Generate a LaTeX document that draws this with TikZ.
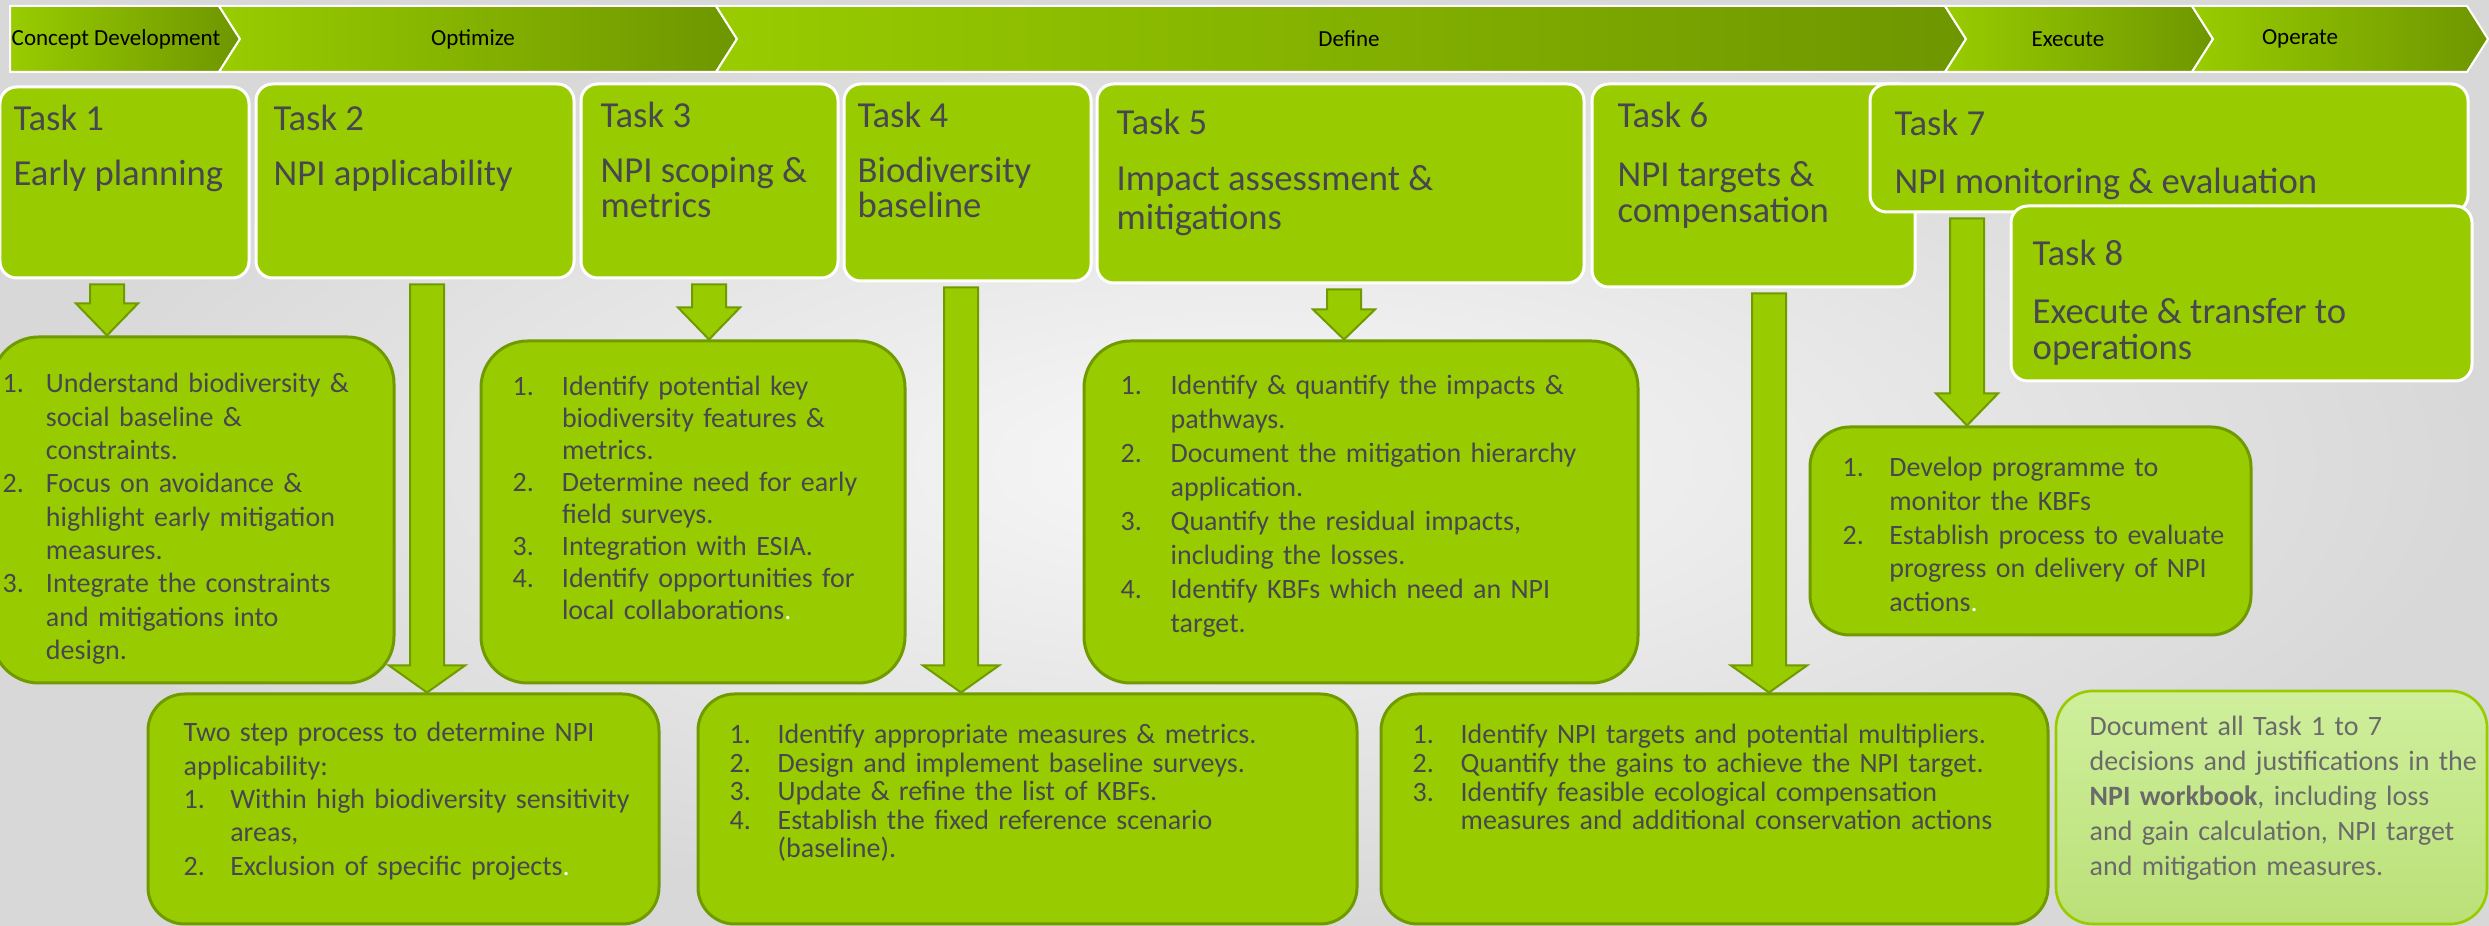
\documentclass[tikz,border=0pt]{standalone}
\usepackage{fontspec}
\setmainfont{Carlito}
\usetikzlibrary{fit,calc}
\definecolor{lg}{HTML}{99CC00}
\definecolor{dg}{HTML}{6E9600}
\definecolor{bd}{HTML}{6F9A00}
\definecolor{tx}{HTML}{47474F}
\definecolor{hla}{HTML}{CFEF9C}
\definecolor{hlb}{HTML}{BBE078}
\definecolor{hx}{HTML}{6A6A6A}
\definecolor{bga}{HTML}{F8F8F8}
\definecolor{bgb}{HTML}{D8D8D8}
\newlength\lind
\newcommand\li[2]{\hangindent=\lind\hangafter=1\noindent\makebox[\lind][l]{#1}#2\par}
\newcommand\barrow[5]{%
  \draw[blockarrow] let \p1=#1, \p2=#2 in
   (\x1-#3,\y1) -- (\x1+#3,\y1) -- (\x1+#3,\y2+#5) -- (\x1+#4,\y2+#5) -- (\x1,\y2)
   -- (\x1-#4,\y2+#5) -- (\x1-#3,\y2+#5) -- cycle;}
\tikzset{
  taskbox/.style={fill=lg, draw=white, line width=0.9pt, rounded corners=5pt, inner sep=0pt},
  listbox/.style={fill=lg, draw=bd, line width=0.9pt, rounded corners=14pt, inner sep=0pt},
  lowbox/.style={listbox, rounded corners=11pt},
  notebox/.style={top color=hla, bottom color=hlb, draw=lg, line width=0.8pt, rounded corners=11pt, inner sep=0pt},
  ttl/.style={text=tx, font=\fontsize{11}{12}\selectfont, inner sep=0pt, anchor=base west},
  body/.style={text=tx, inner sep=0pt, anchor=base west, align=left, text width=#1},
  chev/.style={draw=white, line width=0.6pt, left color=lg, right color=dg},
  htext/.style={font=\fontsize{6.9}{8}\selectfont, text=black, inner sep=0pt},
  blockarrow/.style={fill=lg, draw=bd, line width=0.6pt},
}
\begin{document}
\begin{tikzpicture}[x=0.3pt,y=-0.3pt]
\useasboundingbox (0,0) rectangle (2489,926);
\shade[inner color=bga, outer color=bgb] (0,0) rectangle (2489,926);

% header chevrons
\path[chev] (10,6) -- (219,6) -- (240,39) -- (219,72) -- (10,72) -- cycle;
\node[htext] (hcd) at (116,39) {Concept Development};
\path[chev] (219,6) -- (716,6) -- (737,39) -- (716,72) -- (219,72) -- (240,39) -- cycle;
\node[htext] (hop) at (473,39) {Optimize};
\path[chev] (716,6) -- (1945,6) -- (1966,39) -- (1945,72) -- (716,72) -- (737,39) -- cycle;
\node[htext] (hdf) at (1349,39) {Define};
\path[chev] (1945,6) -- (2192,6) -- (2213,39) -- (2192,72) -- (1945,72) -- (1966,39) -- cycle;
\node[htext] (hex) at (2068,39) {Execute};
\path[chev] (2192,6) -- (2467,6) -- (2488,39) -- (2467,72) -- (2192,72) -- (2213,39) -- cycle;
\node[htext] (hoe) at (2300,39) {Operate};

% task boxes
\node[taskbox, fit={(0,87) (249,278)}] (T1) {};
\node[ttl] (T1n) at (13,131) {Task 1};
\node[ttl] (T1t) at (13,186) {Early planning};

\node[taskbox, fit={(256,84) (574,278)}] (T2) {};
\node[ttl] (T2n) at (273,131) {Task 2};
\node[ttl] (T2t) at (273,186) {NPI applicability};

\node[taskbox, fit={(581,84) (838,278)}] (T3) {};
\node[ttl] (T3n) at (600,128) {Task 3};
\node[ttl] (T3t) at (600,183) {NPI scoping \&};
\node[ttl] (T3u) at (600,218) {metrics};

\node[taskbox, fit={(844,84) (1091,281)}] (T4) {};
\node[ttl] (T4n) at (857,128) {Task 4};
\node[ttl] (T4t) at (857,183) {Biodiversity};
\node[ttl] (T4u) at (857,218) {baseline};

\node[taskbox, fit={(1097,84) (1584,283)}] (T5) {};
\node[ttl] (T5n) at (1116,135) {Task 5};
\node[ttl] (T5t) at (1116,191) {Impact assessment \&};
\node[ttl] (T5u) at (1116,230) {mitigations};

\node[taskbox, fit={(1592,84) (1915,287)}] (T6) {};
\node[ttl] (T6n) at (1617,128) {Task 6};
\node[ttl] (T6t) at (1617,187) {NPI targets \&};
\node[ttl] (T6u) at (1617,223) {compensation};

\node[taskbox, fit={(1870,84) (2468,212)}] (T7) {};
\node[ttl] (T7n) at (1894,136) {Task 7};
\node[ttl] (T7t) at (1894,194) {NPI monitoring \& evaluation};

\node[taskbox, fit={(2011,206) (2472,381)}] (T8) {};
\node[ttl] (T8n) at (2032,266) {Task 8};
\node[ttl] (T8t) at (2032,324) {Execute \& transfer to};
\node[ttl] (T8u) at (2032,360) {operations};

% list boxes
\node[listbox, fit={(-8,337) (394,683)}] (A) {};
\node[body=125pt, font=\fontsize{8.4}{10}\selectfont] (At) at (2,393) {\setlength\lind{13pt}%
\li{1.}{Understand biodiversity \&\newline social baseline \&\newline constraints.}%
\li{2.}{Focus on avoidance \&\newline highlight early mitigation\newline measures.}%
\li{3.}{Integrate the constraints\newline and mitigations into\newline design.}};

\node[lowbox, fit={(148,694) (659,924)}] (B) {};
\node[body=150pt, font=\fontsize{8.4}{10}\selectfont] (Bt) at (183,742) {\setlength\lind{14pt}%
\noindent Two step process to determine NPI\newline applicability:\par
\li{1.}{Within high biodiversity sensitivity\newline areas,}%
\li{2.}{Exclusion of specific projects\textcolor{white}{.}}};

\node[listbox, fit={(481,341) (905,683)}] (C) {};
\node[body=125pt, font=\fontsize{8.4}{9.6}\selectfont] (Ct) at (512,396) {\setlength\lind{14.8pt}%
\li{1.}{Identify potential key\newline biodiversity features \&\newline metrics.}%
\li{2.}{Determine need for early\newline field surveys.}%
\li{3.}{Integration with ESIA.}%
\li{4.}{Identify opportunities for\newline local collaborations\textcolor{white}{.}}};

\node[lowbox, fit={(698,694) (1357,924)}] (D) {};
\node[body=190pt, font=\fontsize{8.4}{8.55}\selectfont] (Dt) at (729,744) {\setlength\lind{14.4pt}%
\li{1.}{Identify appropriate measures \& metrics.}%
\li{2.}{Design and implement baseline surveys.}%
\li{3.}{Update \& refine the list of KBFs.}%
\li{4.}{Establish the fixed reference scenario\newline (baseline).}};

\node[listbox, fit={(1084,341) (1638,683)}] (E) {};
\node[body=160pt, font=\fontsize{8.4}{10.2}\selectfont] (Et) at (1120,395) {\setlength\lind{15pt}%
\li{1.}{Identify \& quantify the impacts \&\newline pathways.}%
\li{2.}{Document the mitigation hierarchy\newline application.}%
\li{3.}{Quantify the residual impacts,\newline including the losses.}%
\li{4.}{Identify KBFs which need an NPI\newline target.}};

\node[lowbox, fit={(1381,694) (2048,924)}] (F) {};
\node[body=195pt, font=\fontsize{8.4}{8.6}\selectfont] (Ft) at (1412,744) {\setlength\lind{14.4pt}%
\li{1.}{Identify NPI targets and potential multipliers.}%
\li{2.}{Quantify the gains to achieve the NPI target.}%
\li{3.}{Identify feasible ecological compensation\newline measures and additional conservation actions}};

\node[listbox, rounded corners=12pt, fit={(1810,427) (2251,635)}] (G) {};
\node[body=125pt, font=\fontsize{8.4}{10.1}\selectfont] (Gt) at (1842,477) {\setlength\lind{14pt}%
\li{1.}{Develop programme to\newline monitor the KBFs}%
\li{2.}{Establish process to evaluate\newline progress on delivery of NPI\newline actions\textcolor{white}{.}}};

\node[notebox, fit={(2056,691) (2487,924)}] (H) {};
\node[body=125pt, text=hx, font=\fontsize{8.4}{10.45}\selectfont] (Ht) at (2089,736) {%
Document all Task 1 to 7\\decisions and justifications in the\\\textbf{NPI workbook}, including loss\\and gain calculation, NPI target\\and mitigation measures.};

% arrows
\coordinate (a1x) at (107,0);
\coordinate (a2x) at (427,0);
\coordinate (a3x) at (709,0);
\coordinate (a4x) at (961,0);
\coordinate (a5x) at (1344,0);
\coordinate (a6x) at (1769,0);
\coordinate (a7x) at (1967,0);
\barrow{($(a1x |- T1.south)+(0,5)$)}{(a1x |- A.north)}{5.1pt}{9.3pt}{9.6pt}
\barrow{($(a2x |- T2.south)+(0,5)$)}{(a2x |- B.north)}{5.1pt}{11.4pt}{8.1pt}
\barrow{($(a3x |- T3.south)+(0,5)$)}{(a3x |- C.north)}{5.1pt}{9.3pt}{9.6pt}
\barrow{($(a4x |- T4.south)+(0,5)$)}{(a4x |- D.north)}{5.1pt}{11.4pt}{8.1pt}
\barrow{($(a5x |- T5.south)+(0,5)$)}{(a5x |- E.north)}{5.1pt}{9.3pt}{9.0pt}
\barrow{($(a6x |- T6.south)+(0,5)$)}{(a6x |- F.north)}{5.1pt}{11.4pt}{8.1pt}
\barrow{($(a7x |- T7.south)+(0,5)$)}{(a7x |- G.north)}{5.1pt}{9.3pt}{9.6pt}
\end{tikzpicture}
\end{document}
